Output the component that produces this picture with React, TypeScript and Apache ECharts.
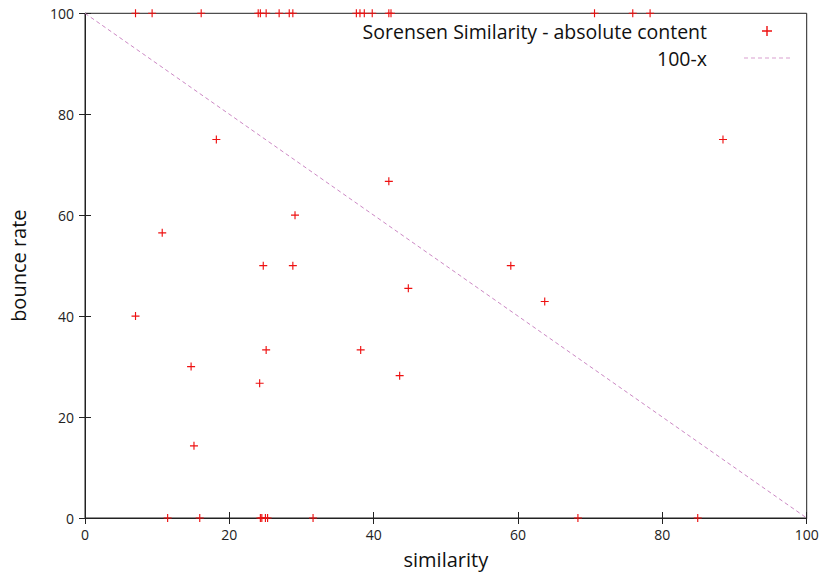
import React, { useEffect, useRef } from "react";
import * as echarts from "echarts";

// Scatter points: similarity (x) and bounce rate (y)
const similarity: number[] = [
  7.0, 9.3, 16.1, 24.0, 24.3, 25.1, 26.9, 28.3, 28.8, 37.6, 38.1, 38.7, 39.8, 42.1, 42.4, 70.6, 75.9, 78.3,
  11.45, 15.9, 24.3, 24.5, 25.0, 25.3, 31.6, 68.3, 84.9,
  18.2, 10.7, 29.1, 24.7, 28.8, 7.0, 25.1, 14.7, 24.2, 15.1, 42.1, 59.0, 63.7, 44.8, 38.2, 43.6, 88.4,
];
const bounceRate: number[] = [
  100, 100, 100, 100, 100, 100, 100, 100, 100, 100, 100, 100, 100, 100, 100, 100, 100, 100,
  0, 0, 0, 0, 0, 0, 0, 0, 0,
  75, 56.5, 60, 50, 50, 40, 33.3, 30, 26.7, 14.3, 66.7, 50, 42.9, 45.5, 33.3, 28.2, 75,
];
const referenceLine: number[][] = [
  [0, 100],
  [100, 0],
];
const xTicks = [0, 20, 40, 60, 80, 100];

const FONT = "Open Sans";
const PLUS = "path://M3,0H4V3H7V4H4V7H3V4H0V3H3Z";
const DASHES =
  "path://M0,0H4V1H0Z M7,0H11V1H7Z M14,0H18V1H14Z M21,0H25V1H21Z M28,0H32V1H28Z M35,0H39V1H35Z M42,0H46V1H42Z";

export default function App() {
  const ref = useRef<HTMLDivElement>(null);
  useEffect(() => {
    if (!ref.current) return;
    const chart = echarts.init(ref.current, undefined, { renderer: "svg" });
    const points = similarity.map((x, i) => [x, bounceRate[i]]);
    const tickStyle = { inside: true, length: 6, lineStyle: { color: "#222", width: 1 } };
    chart.setOption({
      animation: false,
      backgroundColor: "#fff",
      grid: {
        left: 85,
        right: 16.3,
        top: 13.3,
        bottom: 52,
        show: true,
        borderColor: "#222",
        borderWidth: 1,
        containLabel: false,
      },
      legend: {
        orient: "vertical",
        right: 28,
        top: 16,
        align: "right",
        itemWidth: 46,
        itemHeight: 10,
        itemGap: 7,
        textStyle: { fontFamily: FONT, fontSize: 19.5, lineHeight: 19, color: "#111", padding: [0, 32, 0, 0] },
        data: [
          { name: "Sorensen Similarity - absolute content", icon: PLUS },
          { name: "100-x", icon: DASHES, itemStyle: { color: "#d9a0d0" } },
        ],
      },
      xAxis: [
        {
          type: "value",
          min: 0,
          max: 100,
          interval: 20,
          name: "similarity",
          nameLocation: "middle",
          nameGap: 31,
          nameTextStyle: { fontFamily: FONT, fontSize: 20, color: "#111" },
          axisLine: { show: true, lineStyle: { color: "#222" } },
          axisTick: tickStyle,
          axisLabel: {
            fontFamily: FONT,
            fontSize: 14,
            color: "#222",
            margin: 9,
            formatter: (v: number) => (xTicks.includes(v) ? String(v) : ""),
          },
          splitLine: { show: false },
        },
        {
          type: "value",
          position: "top",
          min: 0,
          max: 100,
          interval: 20,
          axisLine: { show: true, lineStyle: { color: "#222" } },
          axisTick: tickStyle,
          axisLabel: { show: false },
          splitLine: { show: false },
        },
      ],
      yAxis: [
        {
          type: "value",
          min: 0,
          max: 100,
          interval: 20,
          name: "bounce rate",
          nameLocation: "middle",
          nameGap: 57,
          nameTextStyle: { fontFamily: FONT, fontSize: 20, color: "#111" },
          axisLine: { show: true, lineStyle: { color: "#222" } },
          axisTick: tickStyle,
          axisLabel: { fontFamily: FONT, fontSize: 14, color: "#222", margin: 11 },
          splitLine: { show: false },
        },
        {
          type: "value",
          position: "right",
          min: 0,
          max: 100,
          interval: 20,
          axisLine: { show: true, lineStyle: { color: "#222" } },
          axisTick: tickStyle,
          axisLabel: { show: false },
          splitLine: { show: false },
        },
      ],
      series: [
        {
          name: "Sorensen Similarity - absolute content",
          type: "scatter",
          data: points,
          symbol: PLUS,
          symbolSize: 8,
          clip: false,
          z: 5,
          itemStyle: { color: "#ee1111", opacity: 1 },
        },
        {
          name: "100-x",
          type: "line",
          data: referenceLine,
          symbol: "none",
          z: 3,
          lineStyle: { color: "#cc88c4", width: 1, type: [4, 3] },
          itemStyle: { color: "#cc88c4" },
        },
      ],
    });
    return () => chart.dispose();
  }, []);
  return <div ref={ref} style={{ width: 823, height: 574, position: "absolute", left: 0, top: 0 }} />;
}
